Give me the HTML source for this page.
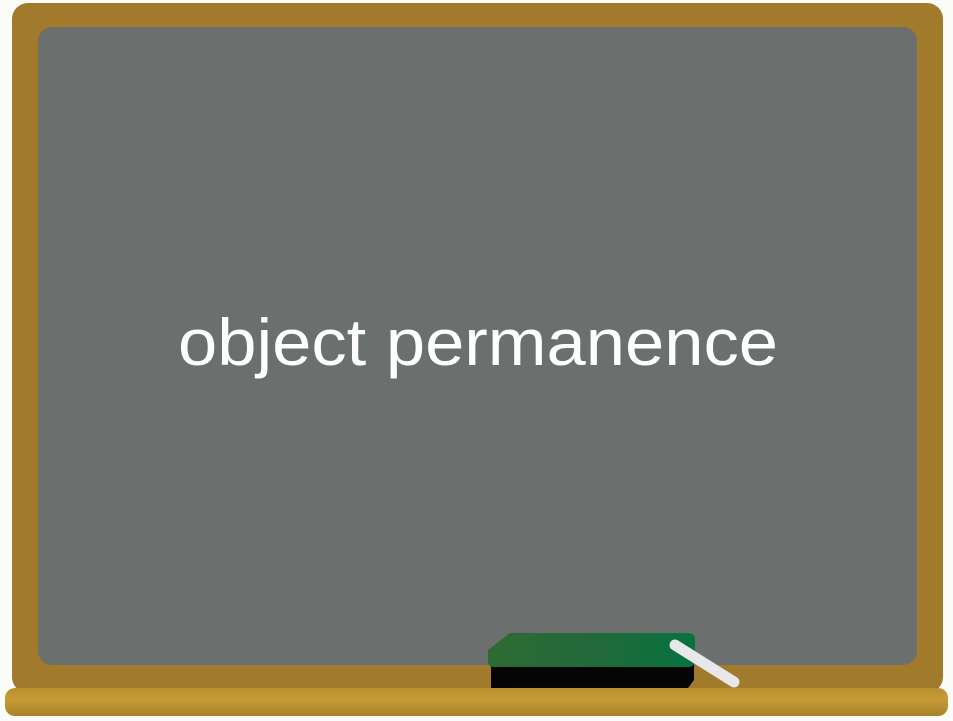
<!DOCTYPE html>
<html><head><meta charset="utf-8"><style>
html,body{margin:0;padding:0;background:#fbfbf7;}
svg{display:block}
</style></head><body>
<svg width="953" height="721" viewBox="0 0 953 721">
  <defs>
    <linearGradient id="ledge" x1="0" y1="0" x2="0" y2="1">
      <stop offset="0" stop-color="#b98f2f"/><stop offset="0.4" stop-color="#c69b36"/><stop offset="1" stop-color="#a88229"/>
    </linearGradient>
    <linearGradient id="eraserTop" x1="0" y1="0" x2="1" y2="0">
      <stop offset="0" stop-color="#2e6a33"/><stop offset="0.5" stop-color="#22693a"/><stop offset="1" stop-color="#06733f"/>
    </linearGradient>
  </defs>
  <rect x="12" y="3" width="931" height="690" rx="16" fill="#a17b2b"/>
  <rect x="38" y="27" width="879" height="638" rx="14" fill="#6b6f6d"/>
  <text x="178" y="365" textLength="600" lengthAdjust="spacingAndGlyphs" font-family="'Liberation Sans', sans-serif" font-size="66" fill="#ffffff">object permanence</text>
  <rect x="5" y="688" width="943" height="28" rx="10" fill="url(#ledge)"/>
  <path d="M491 664 H694 V680 L688 688 H491 Z" fill="#050505"/>
  <path d="M510 633 H688 Q695 633 695 640 V660 Q695 667 688 667 H494 Q488 667 488 661 V650 Z" fill="url(#eraserTop)"/>
  <line x1="675" y1="645" x2="734" y2="682" stroke="#e8e8ea" stroke-width="11" stroke-linecap="round"/>
</svg>
</body></html>
